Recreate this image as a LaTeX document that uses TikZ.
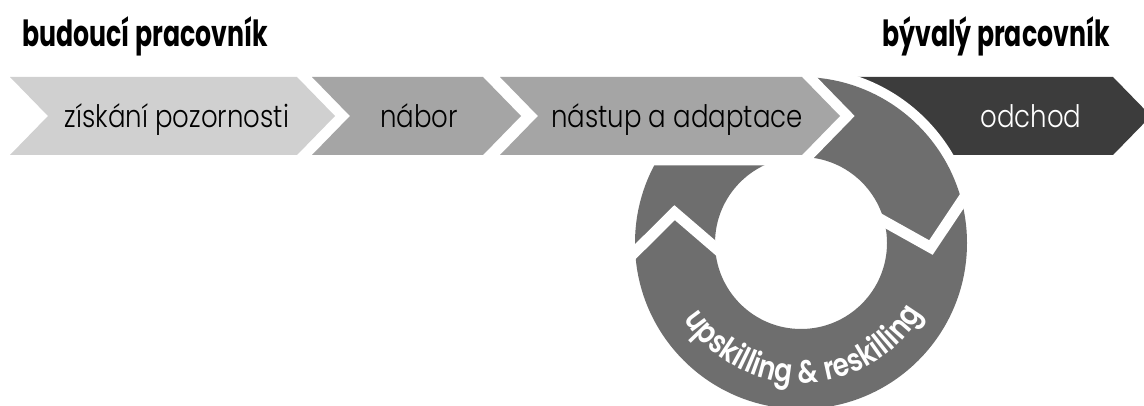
\documentclass[tikz,border=0pt]{standalone}
\usepackage{fontspec}
\usetikzlibrary{calc,decorations.text}
\IfFontExistsTF{Poppins Light}{\newfontfamily\lightfont{Poppins Light}[FakeStretch=0.84]}{\newfontfamily\lightfont{Poppins}[FakeStretch=0.84]}
\IfFontExistsTF{Poppins Bold}{\newfontfamily\headfont{Poppins Bold}[FakeStretch=0.70]}{\newfontfamily\headfontraw{Poppins}[FakeStretch=0.70]\def\headfont{\headfontraw\bfseries}}
\IfFontExistsTF{Poppins SemiBold}{\newfontfamily\ringfont{Poppins SemiBold}[FakeStretch=0.82,LetterSpace=4]}{\newfontfamily\ringfontraw{Poppins}[FakeStretch=0.82,LetterSpace=4]\def\ringfont{\ringfontraw\bfseries}}
\definecolor{cA}{HTML}{D0D0D0}
\definecolor{cB}{HTML}{A5A5A5}
\definecolor{cR}{HTML}{6E6E6E}
\definecolor{cD}{HTML}{3C3C3C}
\begin{document}
\begin{tikzpicture}[x=1pt,y=1pt,
  bandtext/.style={inner sep=0pt, anchor=base, font=\lightfont\fontsize{31}{33}\selectfont},
  headtext/.style={inner sep=0pt, font=\headfont\fontsize{36}{38}\selectfont},
  gapline/.style={draw=white, line width=11pt, line join=miter, line cap=butt}]
\useasboundingbox (0,0) rectangle (1144,-406);
\fill[white] (0,0) rectangle (1144,-406);
\coordinate (C) at (801,-243);
% odchod (behind ring)
\fill[cD] (800,-77) -- (1113,-77) -- (1151,-116) -- (1113,-155) -- (800,-155) -- cycle;
% white margin around ring
\fill[white] (C) circle[radius=176];
% ring
\fill[cR, even odd rule] (C) circle[radius=166] (C) circle[radius=86];
% chevron gaps in ring
\foreach \t/\n in {14.5/r, 183/l} {
  \pgfmathsetmacro\tp{\t-16.5}
  \coordinate (gi\n) at ($(C)+(\t:86)$);
  \coordinate (gt\n) at ($(C)+(\tp:130)$);
  \coordinate (go\n) at ($(C)+(\t:166)$);
  \draw[gapline] ($(gt\n)!1.25!(gi\n)$) -- (gt\n) -- ($(gt\n)!1.25!(go\n)$);
}
% ring text
\path[decorate, decoration={text along path, text align=center,
  text={|\ringfont\fontsize{32}{34}\selectfont\color{white}|upskilling {\&} reskilling}}]
  ($(C)+(201.5:140)$) arc[start angle=201.5, end angle=341.5, radius=140];
% chevrons
\fill[cA] (10,-77) -- (297,-77) -- (335,-116) -- (297,-155) -- (10,-155) -- (48,-116) -- cycle;
\fill[cB] (312,-77) -- (483,-77) -- (521,-116) -- (483,-155) -- (312,-155) -- (350,-116) -- cycle;
\path[fill=cB, preaction={draw=white, line width=21pt, line join=miter}]
  (500,-77) -- (802,-77) -- (840,-116) -- (802,-155) -- (500,-155) -- (538,-116) -- cycle;
% texts
\node[bandtext] (t1) at (177,-128) {získání pozornosti};
\node[bandtext] (t2) at (419,-128) {nábor};
\node[bandtext] (t3) at (677,-128) {nástup a adaptace};
\node[bandtext, text=white] (t4) at (1031,-128) {odchod};
\node[headtext, anchor=base west] (h1) at (22,-47) {budoucí pracovník};
\node[headtext, anchor=base east] (h2) at (1110,-47) {bývalý pracovník};
\end{tikzpicture}
\end{document}
